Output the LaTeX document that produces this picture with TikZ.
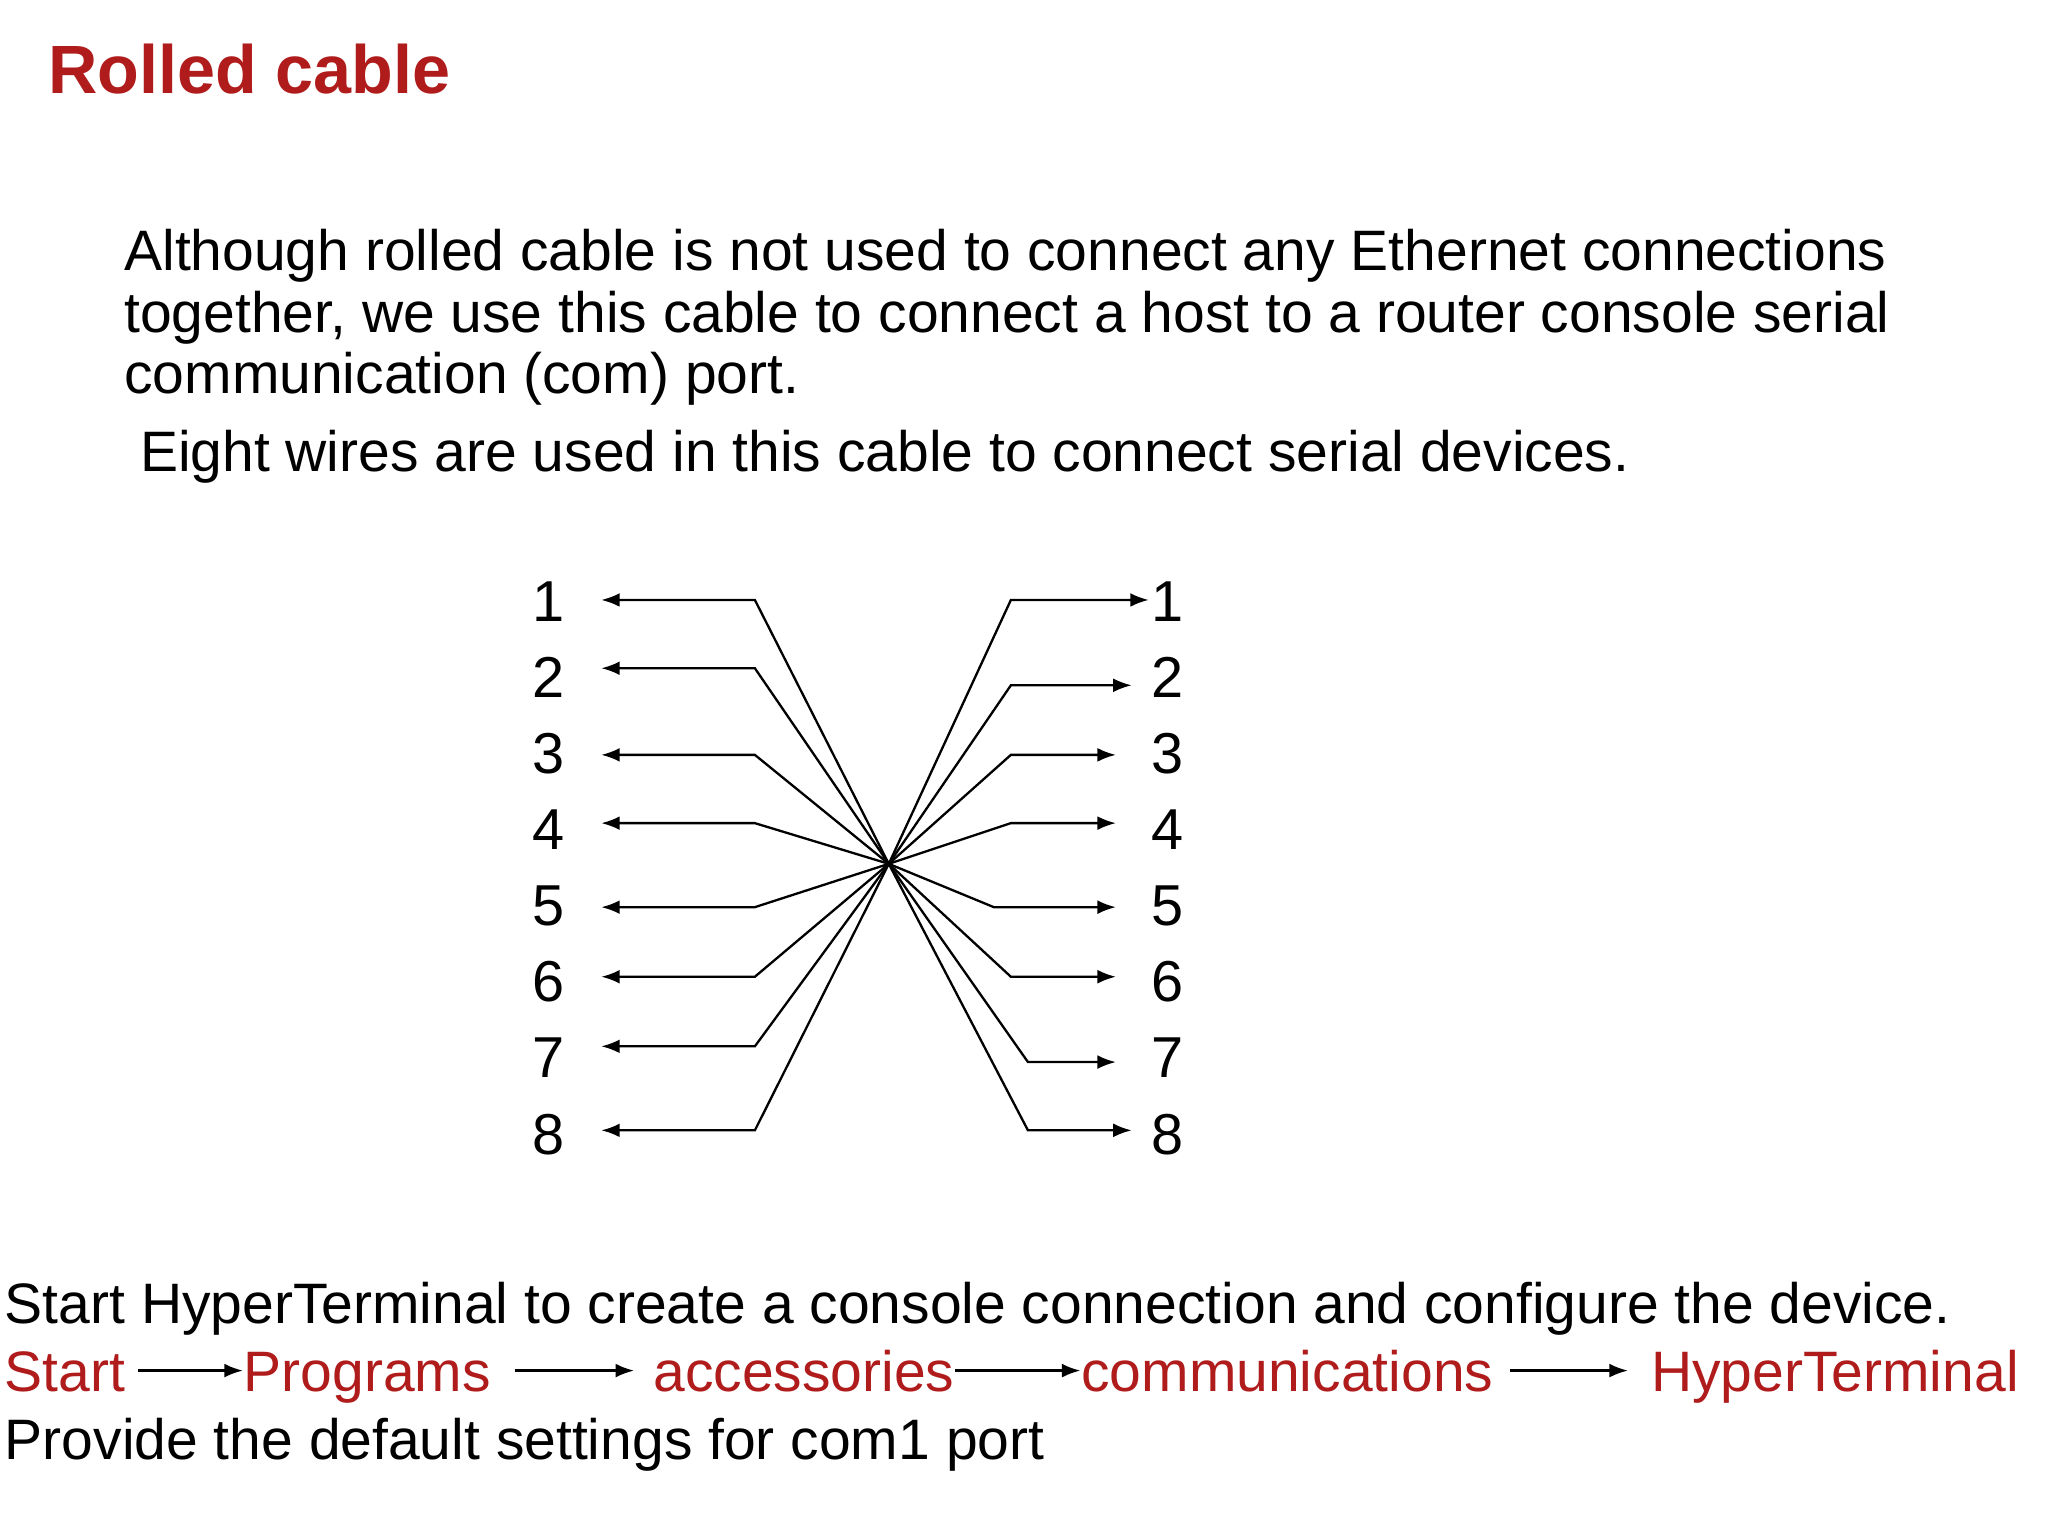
\documentclass[tikz,border=0pt]{standalone}
\usepackage{fontspec}
\setmainfont{Liberation Sans}
\usetikzlibrary{arrows.meta}
\definecolor{slidered}{HTML}{B01C1C}
\tikzset{
  txt/.style={anchor=base west,inner sep=0pt,font=\fontsize{12.35}{14}\selectfont},
  wire/.style={line width=0.5pt,-{Latex[length=4pt,width=3pt]}},
  pin/.style={inner sep=0pt,font=\fontsize{12.5}{14}\selectfont}
}
\begin{document}
\begin{tikzpicture}[x=0.01cm,y=-0.01cm]
\useasboundingbox[fill=white] (0,0) rectangle (1560,1170);

\node[txt,font=\bfseries\fontsize{14.8}{16}\selectfont,text=slidered] (title) at (36,71) {Rolled cable};

\node[txt] (para1) at (94,206) {Although rolled cable is not used to connect any Ethernet connections};
\node[txt] (para2) at (94,253) {together, we use this cable to connect a host to a router console serial};
\node[txt] (para3) at (94,300) {communication (com) port.};
\node[txt] (para4) at (106,359) {Eight wires are used in this cable to connect serial devices.};

% crossing point
\coordinate (x) at (677,658);

% left side
\foreach \n/\ly/\ay in {1/458/457,2/516/509,3/574/575,4/632/627,5/690/691,6/748/744,7/806/797,8/864/861}
{%
  \node[pin] (l\n) at (418,\ly) {\n};
  \coordinate (lb\n) at (575,\ay);
  \coordinate (lt\n) at (458,\ay);
  \draw[wire] (x) -- (lb\n) -- (lt\n);
}

% right side
\foreach \n/\ly/\ry/\bx/\tx in {1/458/457/770/875,2/516/522/770/862,3/574/575/770/850,4/632/627/770/850,5/690/691/757/850,6/748/744/770/850,7/806/809/783/850,8/864/861/783/862}
{%
  \node[pin] (r\n) at (889,\ly) {\n};
  \coordinate (rb\n) at (\bx,\ry);
  \coordinate (rt\n) at (\tx,\ry);
  \draw[wire] (x) -- (rb\n) -- (rt\n);
}

\node[txt] (hint) at (3,1008) {Start HyperTerminal to create a console connection and configure the device.};
\node[txt,text=slidered] (start) at (3,1060) {Start};
\node[txt,text=slidered] (progs) at (185,1060) {Programs};
\node[txt,text=slidered] (acc) at (497,1060) {accessories};
\node[txt,text=slidered] (comm) at (823,1060) {communications};
\node[txt,text=slidered] (hyper) at (1257,1060) {HyperTerminal};
\node[txt] (deflt) at (3,1112) {Provide the default settings for com1 port};

\draw[wire] (105,1044) -- (progs.west |- 0,1044);
\draw[wire] (392,1044) -- (483,1044);
\draw[wire] (acc.east |- 0,1044) -- (comm.west |- 0,1044);
\draw[wire] (1150,1044) -- (1240,1044);
\end{tikzpicture}
\end{document}
